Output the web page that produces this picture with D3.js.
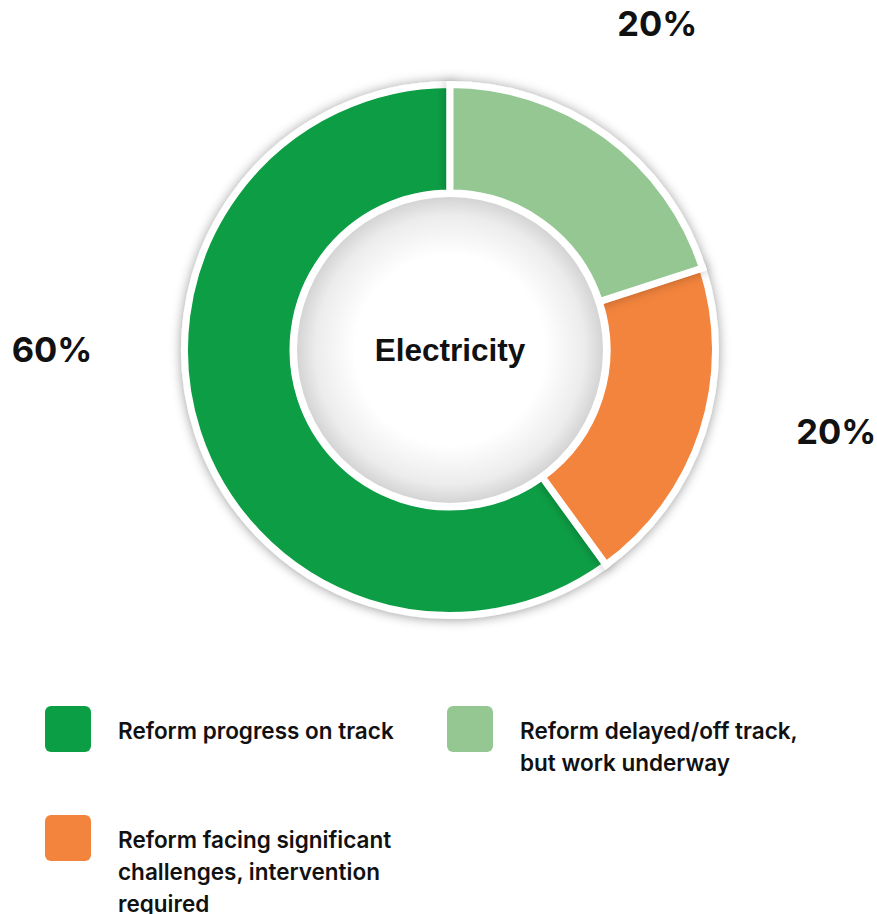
<!DOCTYPE html>
<html><head><meta charset="utf-8">
<script src="https://cdn.jsdelivr.net/npm/d3@7"></script>
<style>html,body{margin:0;padding:0;background:#fff;}svg{display:block;}</style>
</head><body>
<svg id="chart" width="877" height="914"></svg>
<script>
const categories = ["Reform progress on track", "Reform delayed/off track, but work underway", "Reform facing significant challenges, intervention required"];
const values = [60, 20, 20];
const colors = ["#0c9e44", "#95c793", "#f3843d"];
const centerTitle = "Electricity";
const legendLines = [["Reform progress on track"], ["Reform delayed/off track,", "but work underway"], ["Reform facing significant", "challenges, intervention", "required"]];

const W = 877, H = 914, cx = 450, cy = 350;
const svg = d3.select("#chart");
const defs = svg.append("defs");

const fOuter = defs.append("filter").attr("id","outerShadow").attr("x","-20%").attr("y","-20%").attr("width","140%").attr("height","140%");
fOuter.append("feDropShadow").attr("dx",0).attr("dy",2).attr("stdDeviation",6).attr("flood-color","#000").attr("flood-opacity",0.18);
const fSlice = defs.append("filter").attr("id","sliceShadow").attr("x","-30%").attr("y","-30%").attr("width","160%").attr("height","160%");
fSlice.append("feDropShadow").attr("dx",0).attr("dy",0).attr("stdDeviation",6).attr("flood-color","#000").attr("flood-opacity",0.28);
const rg = defs.append("radialGradient").attr("id","innerGrad");
rg.append("stop").attr("offset","0%").attr("stop-color","#ffffff");
rg.append("stop").attr("offset","62%").attr("stop-color","#ffffff");
rg.append("stop").attr("offset","88%").attr("stop-color","#ececec");
rg.append("stop").attr("offset","100%").attr("stop-color","#d4d4d4");

const g = svg.append("g").attr("transform", `translate(${cx},${cy})`);

// white base with outer shadow
g.append("circle").attr("r", 267).attr("fill", "#fff").attr("filter", "url(#outerShadow)");

const data = categories.map((c, i) => ({cat: c, value: values[i], color: colors[i], idx: i}));
const pie = d3.pie().value(d => d.value).sort(null).startAngle(0).endAngle(2 * Math.PI);
// light green from 12 o'clock, then orange, then green to close the ring
const arcsData = pie([data[1], data[2], data[0]]);
const arc = d3.arc().innerRadius(157).outerRadius(265.5);

const drawOrder = [2, 1, 0]; // green, orange, light green on top
drawOrder.forEach(k => {
  const a = arcsData[k];
  g.append("path").attr("d", arc(a)).attr("fill", a.data.color)
    .attr("stroke", "#fff").attr("stroke-width", 7).attr("stroke-linejoin","miter")
    .attr("filter", "url(#sliceShadow)");
});

// inner disc
g.append("circle").attr("r", 160).attr("fill", "#fff");
g.append("circle").attr("r", 153).attr("fill", "url(#innerGrad)");

g.append("text").attr("text-anchor","middle").attr("y", 11)
  .attr("font-family","Liberation Sans, Arial, sans-serif").attr("font-weight",700)
  .attr("font-size", 31.5).attr("fill","#111").text(centerTitle);

// percentage labels
const total = d3.sum(values);
const labelAdj = {0: 18, 1: -3.5, 2: -6};
const labelR = {0: 398, 1: 386, 2: 395};
arcsData.forEach(a => {
  const mid = (a.startAngle + a.endAngle) / 2;
  const ang = mid + labelAdj[a.data.idx] * Math.PI / 180;
  const r = labelR[a.data.idx];
  g.append("text").attr("text-anchor","middle")
    .attr("x", r * Math.sin(ang)).attr("y", -r * Math.cos(ang) + 12)
    .attr("font-family","Inter, Roboto, sans-serif").attr("font-weight",700)
    .attr("font-size", 34.5).attr("fill","#111")
    .text(Math.round(a.data.value / total * 100) + "%");
});

// legend
const legendX = d3.scaleOrdinal().domain([0,1,2]).range([45, 447, 45]);
const legendY = d3.scaleOrdinal().domain([0,1,2]).range([706, 706, 815]);
data.forEach((d, i) => {
  const lg = svg.append("g").attr("transform", `translate(${legendX(i)},${legendY(i)})`);
  lg.append("rect").attr("width", 46).attr("height", 46).attr("rx", 6).attr("fill", d.color);
  const t = lg.append("text").attr("x", 73).attr("y", 33)
    .attr("font-family","Inter, Roboto, sans-serif").attr("font-weight",600)
    .attr("font-size", 22.5).attr("fill","#111");
  legendLines[i].forEach((line, j) => {
    t.append("tspan").attr("x", 73).attr("dy", j === 0 ? 0 : 32).text(line);
  });
});
</script>
</body></html>
